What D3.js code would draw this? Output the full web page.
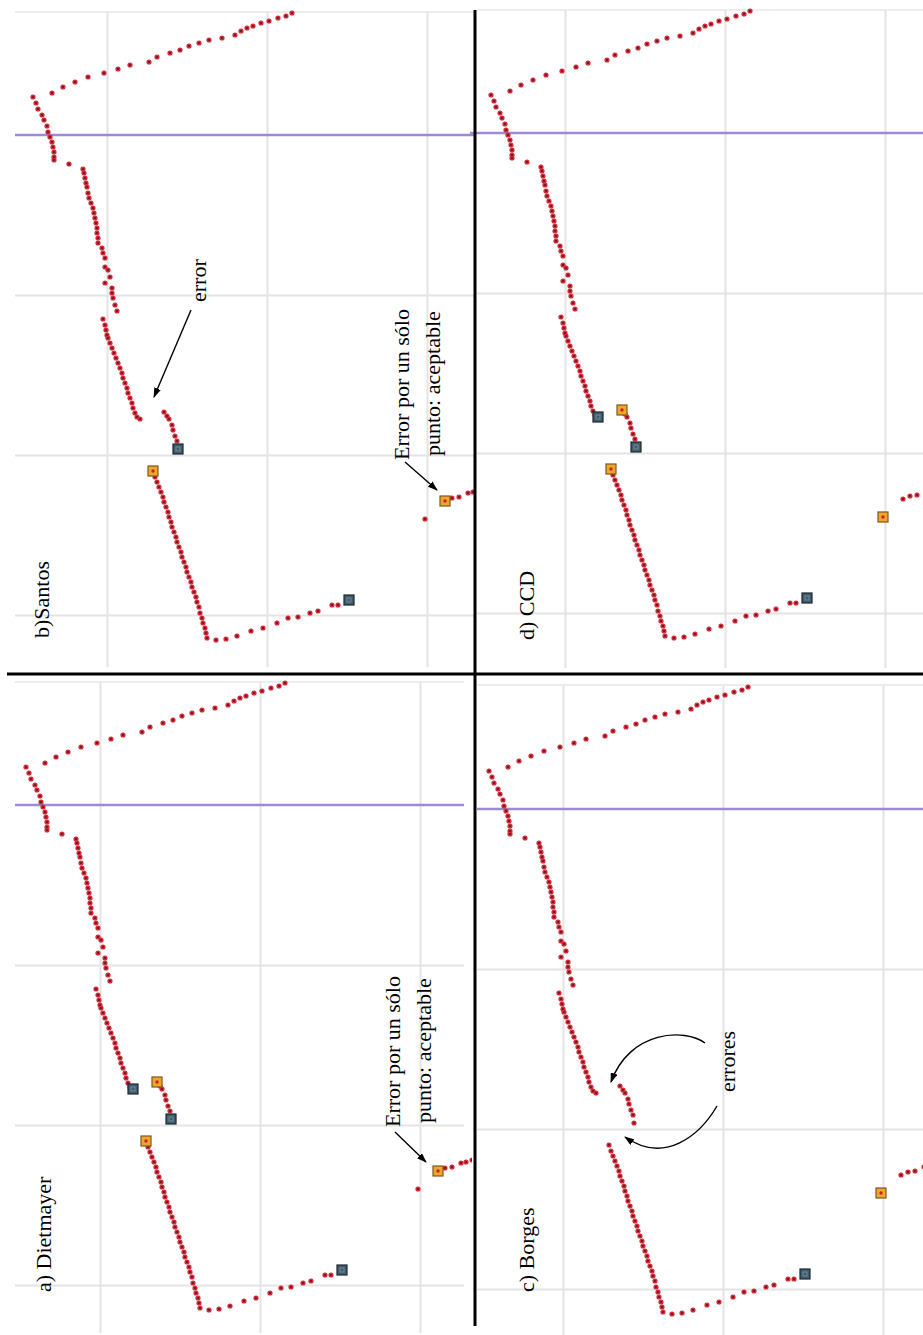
<!DOCTYPE html>
<html><head><meta charset="utf-8">
<script src="https://cdn.jsdelivr.net/npm/d3@7"></script>
<style>html,body{margin:0;padding:0;background:#fff}</style>
</head><body><svg id="fig" width="923" height="1335"></svg>
<script>
// ---- scan data (same laser scan shown in every panel), units: cm, origin at first grid crossing ----
const segTop = [[185,-122],[179,-119],[171,-117],[162,-114],[154,-112],[146,-109],[140,-107],[134,-104],[128,-100],[115,-97],[102,-95],[92,-92],[82,-89],[73,-85],[63,-82],[50,-78],[42,-73],[23,-70],[11,-66],[-3,-62],[-19,-58],[-32,-53],[-44,-48],[-55,-42]];
const segCorner = [[-74,-38],[-71,-32],[-69,-26],[-65,-20],[-63,-15],[-60,-9],[-59,-3],[-57,2],[-55,7],[-54,12],[-53,17],[-53,22],[-53,25],[-38,29]];
const segColumn = [[-24,34],[-23,38],[-22,43],[-21,48],[-20,52],[-19,58],[-18,63],[-16,68],[-14,73],[-13,78],[-12,83],[-11,88],[-10,93],[-10,98],[-9,103],[-9,108],[-5,113],[-4,118],[-2,123],[-2,132],[1,135],[3,142],[-2,148],[5,153],[5,158],[6,163],[8,170],[10,176]];
const segD = [[-4,184],[-2,190],[-1,195],[0,200],[1,203],[3,208],[5,213],[7,218],[9,223],[11,228],[13,233],[15,238],[16,243],[18,248],[20,253],[21,258],[23,263],[25,268],[26,273],[28,278],[30,282],[33,284]];
const segE = [[57,277],[60,281],[62,284],[65,290],[66,295],[68,301],[70,306],[71,314]];
const segF = [[46,336],[48,342],[50,347],[52,352],[54,357],[56,362],[57,367],[59,372],[61,377],[62,382],[64,387],[65,392],[67,397],[69,402],[70,407],[72,412],[74,417],[75,422],[77,427],[79,432],[80,437],[82,442],[84,447],[85,452],[87,457],[89,462],[90,467],[92,472],[93,478],[95,483],[96,488],[98,493],[99,498],[100,503],[109,505],[119,504],[130,501],[144,496],[156,493],[170,488],[181,483],[191,482],[203,478],[211,476],[225,470],[231,470],[242,465]];
const segG = [[318,384],[338,366],[345,363],[352,362],[361,358],[366,357],[372,355]];

const xGrid = [0,160,320];
const yGrid = [160,320,480];
const refLineY = 0;

const panelNames = ["b)Santos","d) CCD","a) Dietmayer","c) Borges"];
// segment markers: [segment, index (-1 = last), kind]
const markersSantos   = [["E",-1,"end"],["F",0,"start"],["F",-1,"end"],["G",1,"start"]];
const markersCCD      = [["D",-1,"end"],["E",0,"start"],["E",-1,"end"],["F",0,"start"],["F",-1,"end"],["G",0,"start"]];
const markersDietmayer= [["D",-1,"end"],["E",0,"start"],["E",-1,"end"],["F",0,"start"],["F",-1,"end"],["G",1,"start"]];
const markersBorges   = [["F",-1,"end"],["G",0,"start"]];

const segs = {A:segTop,B:segCorner,C:segColumn,D:segD,E:segE,F:segF,G:segG};
const allPts = [].concat(segTop,segCorner,segColumn,segD,segE,segF,segG);

// ---- layout ----
const svg = d3.select("#fig");
svg.append("rect").attr("width",923).attr("height",1335).attr("fill","#fff");
const defs = svg.append("defs");
defs.append("marker").attr("id","ah").attr("viewBox","0 0 10 7").attr("refX",9).attr("refY",3.5)
  .attr("markerWidth",10).attr("markerHeight",7).attr("markerUnits","userSpaceOnUse").attr("orient","auto")
  .append("path").attr("d","M0,0 L10,3.5 L0,7 z").attr("fill","#000");

const FONT = "'Liberation Serif','Times New Roman',serif";

const panels = [
  {name:panelNames[0], x0:107,y0:135,left:15,right:475,top:12,bottom:667,clipR:474, label:[48.5,638], markers:markersSantos,
    texts:[{t:"error",bx:99,sy:167},{t:"Error por un sólo",bx:302,sy:325},{t:"punto: aceptable",bx:333,sy:321}],
    arrows:[{d:[[84,175],[47,262]]},{d:[[298,327],[330,355]]}], curves:[]},
  {name:panelNames[1], x0:565,y0:133,left:477,right:923,top:10,bottom:668,clipR:923, label:[534,640], markers:markersCCD,
    texts:[],arrows:[],curves:[], purpleLeft:470},
  {name:panelNames[2], x0:100,y0:805,left:15,right:464,top:682,bottom:1333,clipR:472, label:[50.5,1292], markers:markersDietmayer,
    texts:[{t:"Error por un sólo",bx:299.5,sy:322},{t:"punto: aceptable",bx:331,sy:318}],
    arrows:[{d:[[295,327],[326,357]]}], curves:[]},
  {name:panelNames[3], x0:563,y0:809,left:477,right:923,top:685,bottom:1335,clipR:923, label:[534,1292], markers:markersBorges,
    texts:[{t:"errores",bx:172,sy:283}],arrows:[],
    curves:[[[142,234],[122,219],[67,221],[48,273]],[[154,297],[137,326],[102,356],[62,328]]]}
];

panels.forEach((p,i)=>{
  const x = d3.scaleLinear().domain([p.left-p.x0, p.right-p.x0]).range([p.left,p.right]);
  const y = d3.scaleLinear().domain([p.top-p.y0, p.bottom-p.y0]).range([p.top,p.bottom]);
  const g = svg.append("g");
  const cid = "clip"+i;
  defs.append("clipPath").attr("id",cid).append("rect")
    .attr("x",p.left).attr("y",p.top-4).attr("width",p.clipR-p.left).attr("height",p.bottom-p.top+4);

  // vertical grid
  const gx = g.append("g").attr("transform",`translate(0,${p.top})`)
    .call(d3.axisBottom(x).tickValues(xGrid).tickSize(p.bottom-p.top).tickFormat(""));
  gx.select(".domain").remove();
  gx.selectAll("line").attr("stroke","#e4e4e4").attr("stroke-width",2);
  // horizontal grid
  const gy = g.append("g").attr("transform",`translate(${p.left},0)`)
    .call(d3.axisRight(y).tickValues(yGrid).tickSize(p.right-p.left).tickFormat(""));
  gy.select(".domain").remove();
  gy.selectAll("line").attr("stroke","#e4e4e4").attr("stroke-width",2);
  // top border
  g.append("line").attr("x1",p.left).attr("x2",p.right).attr("y1",p.top).attr("y2",p.top)
    .attr("stroke","#ececec").attr("stroke-width",2);
  // reference line
  g.append("line").attr("x1",p.purpleLeft||p.left).attr("x2",p.right).attr("y1",Math.round(y(refLineY))).attr("y2",Math.round(y(refLineY)))
    .attr("stroke","#9f8ad2").attr("stroke-width",2.6);

  // points
  const pg = g.append("g").attr("clip-path",`url(#${cid})`);
  pg.selectAll("circle.o").data(allPts).join("circle").attr("class","o")
    .attr("cx",d=>x(d[0])).attr("cy",d=>y(d[1])).attr("r",2.6).attr("fill","#d52a38");
  pg.selectAll("circle.c").data(allPts).join("circle").attr("class","c")
    .attr("cx",d=>x(d[0])).attr("cy",d=>y(d[1])).attr("r",1.1).attr("fill","#5e1a22");

  // segment markers
  p.markers.forEach(([s,idx,kind])=>{
    const arr = segs[s]; const pt = arr[idx<0?arr.length+idx:idx];
    const cx = x(pt[0]), cy = y(pt[1]);
    if(kind==="start"){
      pg.append("rect").attr("x",cx-5).attr("y",cy-5).attr("width",10).attr("height",10)
        .attr("fill","#f2a52a").attr("stroke","#7a5a1c").attr("stroke-width",1.2);
      pg.append("circle").attr("cx",cx).attr("cy",cy).attr("r",1.7).attr("fill","#c0262e");
    } else {
      pg.append("rect").attr("x",cx-5).attr("y",cy-5).attr("width",10).attr("height",10)
        .attr("fill","#3f5e6d").attr("stroke","#1b2830").attr("stroke-width",1.2);
      pg.append("rect").attr("x",cx-2).attr("y",cy-2).attr("width",4).attr("height",4)
        .attr("fill","none").attr("stroke","#7d93a0").attr("stroke-width",0.8);
    }
  });

  // panel label
  g.append("text").attr("transform",`translate(${p.label[0]},${p.label[1]}) rotate(-90)`)
    .attr("font-family",FONT).attr("font-size",22).attr("fill","#000").text(p.name);

  // annotations
  p.texts.forEach(t=>{
    g.append("text").attr("transform",`translate(${x(t.bx)},${y(t.sy)}) rotate(-90)`)
      .attr("font-family",FONT).attr("font-size",22).attr("fill","#000").text(t.t);
  });
  p.arrows.forEach(a=>{
    g.append("line").attr("x1",x(a.d[0][0])).attr("y1",y(a.d[0][1])).attr("x2",x(a.d[1][0])).attr("y2",y(a.d[1][1]))
      .attr("stroke","#000").attr("stroke-width",1.4).attr("marker-end","url(#ah)");
  });
  p.curves.forEach(c=>{
    g.append("path").attr("d",`M${x(c[0][0])},${y(c[0][1])} C${x(c[1][0])},${y(c[1][1])} ${x(c[2][0])},${y(c[2][1])} ${x(c[3][0])},${y(c[3][1])}`)
      .attr("fill","none").attr("stroke","#000").attr("stroke-width",1.4).attr("marker-end","url(#ah)");
  });
});

// panel separators
svg.append("line").attr("x1",475).attr("x2",475).attr("y1",10).attr("y2",1326).attr("stroke","#000").attr("stroke-width",3);
svg.append("line").attr("x1",7).attr("x2",923).attr("y1",674).attr("y2",674).attr("stroke","#000").attr("stroke-width",3);
</script></body></html>
